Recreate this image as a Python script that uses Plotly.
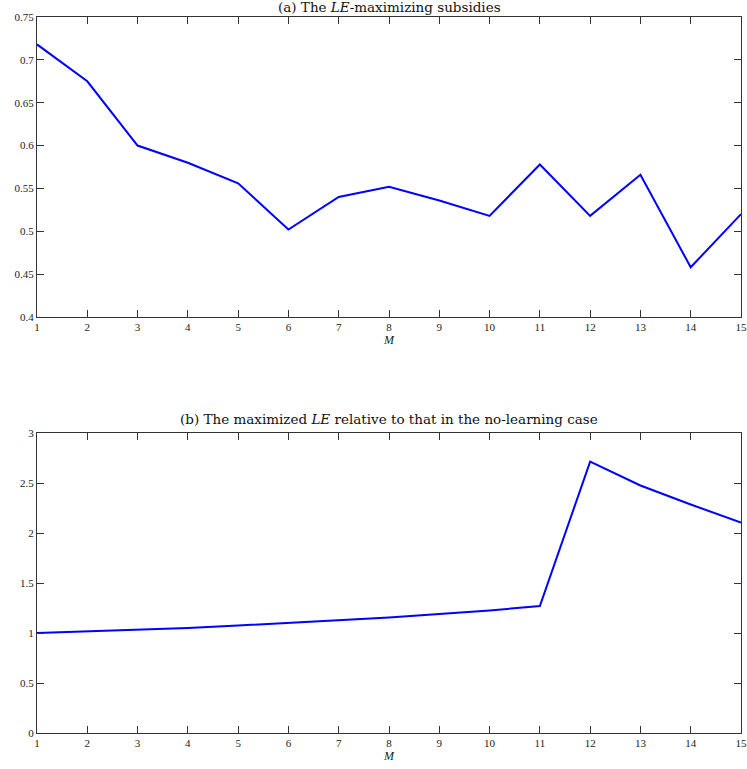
import plotly.graph_objects as go
from plotly.subplots import make_subplots

# Number of firms M
M = list(range(1, 16))

# (a) LE-maximizing subsidies
subsidies = [0.718, 0.675, 0.600, 0.580, 0.556, 0.502, 0.540, 0.552,
             0.536, 0.518, 0.578, 0.518, 0.566, 0.458, 0.520]

# (b) maximized LE relative to the no-learning case
relative_le = [1.000, 1.015, 1.030, 1.050, 1.075, 1.100, 1.125, 1.155,
               1.190, 1.225, 1.270, 2.713, 2.475, 2.285, 2.105]

y_ticks_a = [0.4, 0.45, 0.5, 0.55, 0.6, 0.65, 0.7, 0.75]
y_ticks_b = [0, 0.5, 1, 1.5, 2, 2.5, 3]

W, H = 747, 769
ml, mr, mt, mb = 37, 6, 17, 36
ph = H - mt - mb

fig = make_subplots(rows=2, cols=1, vertical_spacing=0.0)

line_style = dict(color="#0000FF", width=2)
fig.add_trace(go.Scatter(x=M, y=subsidies, mode="lines", line=line_style,
                         showlegend=False), row=1, col=1)
fig.add_trace(go.Scatter(x=M, y=relative_le, mode="lines", line=line_style,
                         showlegend=False), row=2, col=1)

serif = "Liberation Serif"
font = dict(family=serif, size=11, color="#222222")

axis_common = dict(
    showgrid=False, zeroline=False, showline=True, linecolor="#333333",
    linewidth=1, mirror="allticks", ticks="inside", ticklen=7,
    tickcolor="#333333", tickwidth=1, tickfont=font, automargin=False,
)

top_lo = (H - mb - 317) / ph
bot_hi = (H - mb - 433) / ph

fig.update_xaxes(range=[1, 15], tickvals=M, ticktext=[str(m) for m in M],
                 title=dict(text="<i>M</i>", font=dict(family=serif, size=12, color="#222222"),
                            standoff=0),
                 **axis_common)
fig.update_yaxes(**axis_common)
fig.update_yaxes(range=[0.4, 0.75], tickvals=y_ticks_a,
                 ticktext=[f"{v:g}" for v in y_ticks_a], domain=[top_lo, 1],
                 row=1, col=1)
fig.update_yaxes(range=[0, 3], tickvals=y_ticks_b,
                 ticktext=[f"{v:g}" for v in y_ticks_b], domain=[0, bot_hi],
                 row=2, col=1)

title_font = dict(family="DejaVu Serif", size=13.5, color="#111111")
fig.add_annotation(text="(a) The <i>LE</i>-maximizing subsidies",
                   xref="paper", yref="paper", x=0.5, y=1.0, yshift=0,
                   xanchor="center", yanchor="bottom", showarrow=False,
                   font=title_font)
fig.add_annotation(text="(b) The maximized <i>LE</i> relative to that in the no-learning case",
                   xref="paper", yref="paper", x=0.5, y=bot_hi, yshift=4,
                   xanchor="center", yanchor="bottom", showarrow=False,
                   font=title_font)

fig.update_layout(
    width=W, height=H,
    margin=dict(l=ml, r=mr, t=mt, b=mb),
    plot_bgcolor="white", paper_bgcolor="white",
    font=font,
)

fig.write_html("out.html")
